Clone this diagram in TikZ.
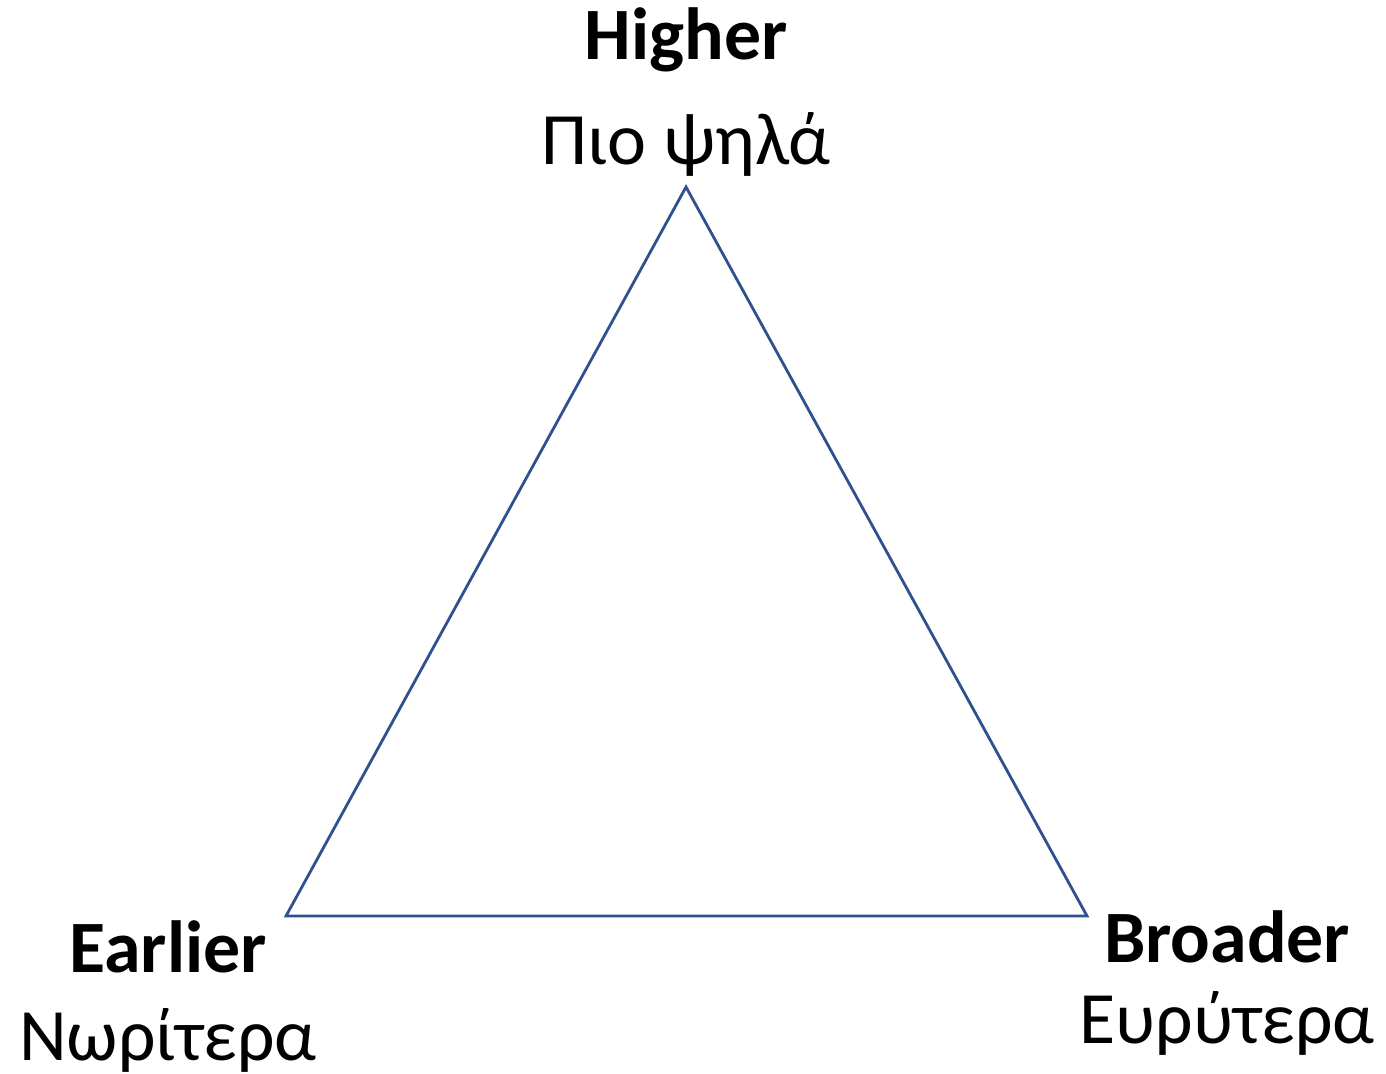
\documentclass[tikz,border=0pt]{standalone}
\usepackage{fontspec}
\setmainfont{Carlito}
\usepackage{tikz}
\definecolor{edgeblue}{RGB}{47,82,143}

\begin{document}
\begin{tikzpicture}[x=0.01cm, y=-0.01cm,
    side/.style={draw=edgeblue, line width=0.8pt, line join=miter},
    engword/.style={anchor=base, inner sep=0pt, font=\fontsize{21}{25}\selectfont\bfseries},
    grkword/.style={anchor=base, inner sep=0pt, font=\fontsize{21}{25}\selectfont}
]
    \useasboundingbox (0,0) rectangle (1386,1074);

    \coordinate (top) at (686,187);
    \coordinate (left) at (286,916);
    \coordinate (right) at (1087,916);
    \draw[side] (top) -- (left) -- (right) -- cycle;

    \node[engword] (higher) at (686,60) {Higher};
    \node[grkword] (higher-gr) at (686,165) {Πιο ψηλά};
    \node[engword] (earlier) at (168,972) {Earlier};
    \node[grkword] (earlier-gr) at (168,1060) {Νωρίτερα};
    \node[engword] (broader) at (1227,962) {Broader};
    \node[grkword] (broader-gr) at (1227,1043) {Ευρύτερα};
\end{tikzpicture}
\end{document}
